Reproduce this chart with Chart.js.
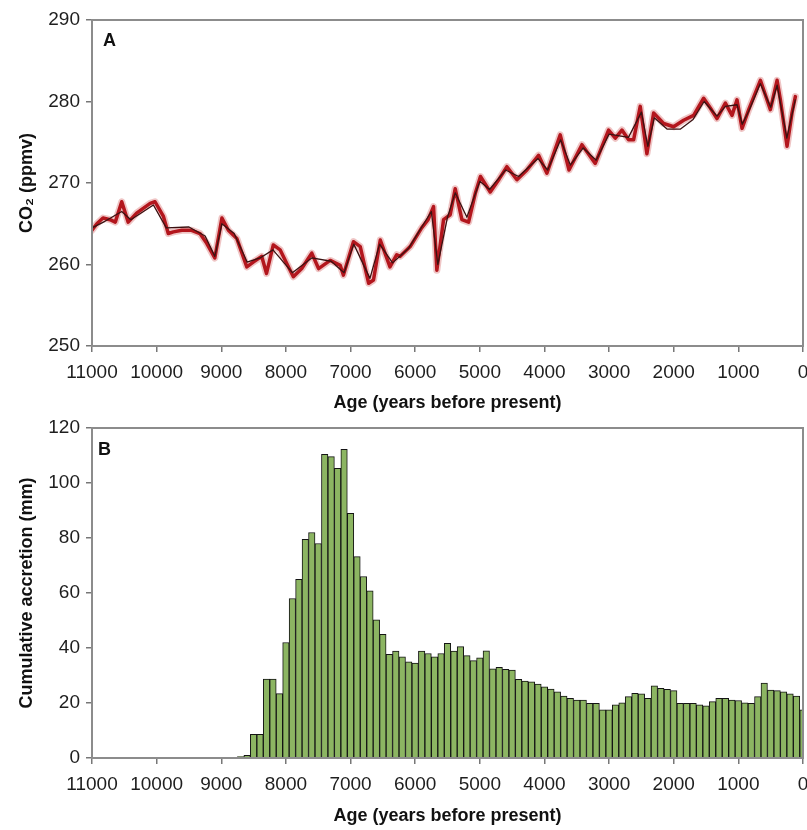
<!DOCTYPE html>
<html>
<head>
<meta charset="utf-8">
<script src="https://cdn.jsdelivr.net/npm/chart.js@4.4.1/dist/chart.umd.min.js"></script>
<style>
body { margin: 0; background: #fff; }
#page { position: relative; width: 807px; height: 830px; font-family: "Liberation Sans", Arial, sans-serif; }
.box { position: absolute; left: 0; width: 807px; height: 415px; }
#box-a { top: 0; }
#box-b { top: 415px; }
.panel { position: absolute; font-weight: bold; font-size: 18px; line-height: 18px; color: #111; }
</style>
</head>
<body>
<div id="page">
  <div class="box" id="box-a"><canvas id="chart-a"></canvas></div>
  <div class="box" id="box-b"><canvas id="chart-b"></canvas></div>
  <div class="panel" style="left:103px;top:31px">A</div>
  <div class="panel" style="left:98px;top:440px">B</div>
</div>
<script>
const ageTicks = [11000, 10000, 9000, 8000, 7000, 6000, 5000, 4000, 3000, 2000, 1000, 0];
const co2Ticks = [250, 260, 270, 280, 290];
const accretionTicks = [0, 20, 40, 60, 80, 100, 120];

const co2Ages = [11000, 10925, 10830, 10720, 10640, 10540, 10440, 10310, 10100, 10025,
  9895, 9820, 9740, 9610, 9460, 9330, 9225, 9100, 8990, 8890,
  8760, 8605, 8505, 8375, 8300, 8195, 8090, 7985, 7885, 7755,
  7600, 7495, 7315, 7160, 7110, 6955, 6850, 6720, 6645, 6540,
  6390, 6285, 6232, 6077, 5900, 5800, 5716, 5665, 5561, 5458,
  5381, 5277, 5174, 5071, 4990, 4839, 4700, 4581, 4426, 4271,
  4091, 3962, 3756, 3620, 3420, 3214, 3008, 2904, 2801, 2698,
  2621, 2518, 2415, 2311, 2157, 2002, 1847, 1692, 1537, 1434,
  1331, 1201, 1098, 1021, 943, 840, 659, 505, 401, 350,
  247, 170, 118];
const co2Values = [264.2, 265.0, 265.7, 265.5, 265.2, 267.7, 265.2, 266.3, 267.5, 267.7,
  265.9, 263.8, 264.0, 264.2, 264.2, 263.8, 262.6, 260.8, 265.7, 264.2,
  263.2, 259.7, 260.3, 261.0, 258.9, 262.4, 261.8, 260.1, 258.5, 259.5,
  261.4, 259.5, 260.5, 259.9, 258.7, 262.8, 262.2, 257.7, 258.1, 263.0,
  259.7, 261.2, 261.0, 262.2, 264.5, 265.5, 267.1, 259.3, 265.5, 266.1,
  269.3, 265.5, 265.2, 268.7, 270.8, 268.9, 270.5, 272.0, 270.4, 271.6,
  273.4, 271.2, 275.9, 271.6, 274.7, 272.4, 276.5, 275.5, 276.5, 275.3,
  275.3, 279.4, 273.6, 278.6, 277.3, 276.9, 277.7, 278.3, 280.4, 279.2,
  277.9, 279.8, 278.3, 280.2, 276.7, 279.0, 282.6, 279.0, 282.6, 280.2,
  274.5, 278.6, 280.6];

const darkAges = [11000, 10800, 10540, 10400, 10050, 9850, 9500, 9250, 9100, 8990,
  8800, 8600, 8400, 8200, 7900, 7600, 7300, 7100, 6950, 6700,
  6550, 6350, 6100, 5750, 5650, 5500, 5380, 5200, 5000, 4850,
  4600, 4400, 4100, 3950, 3750, 3600, 3400, 3200, 3000, 2700,
  2500, 2400, 2300, 2100, 1900, 1700, 1530, 1330, 1200, 1020,
  940, 840, 660, 500, 400, 250, 120];
const darkValues = [264.5, 265.3, 266.5, 265.5, 267.3, 264.5, 264.6, 263.5, 261.0, 265.0,
  263.8, 260.3, 260.8, 261.8, 259.0, 260.8, 260.4, 259.0, 262.5, 258.3,
  262.5, 260.2, 262.0, 266.5, 260.0, 265.8, 268.8, 265.8, 270.2, 269.2,
  271.6, 270.8, 273.0, 271.6, 275.3, 272.2, 274.3, 272.8, 276.0, 275.6,
  278.7, 274.5, 278.0, 276.6, 276.6, 277.8, 280.0, 278.2, 279.4, 279.6,
  277.2, 278.8, 282.2, 279.3, 282.0, 275.5, 280.2];

const accretionAges = [8700, 8600, 8500, 8400, 8300, 8200, 8100, 8000, 7900, 7800,
  7700, 7600, 7500, 7400, 7300, 7200, 7100, 7000, 6900, 6800,
  6700, 6600, 6500, 6400, 6300, 6200, 6100, 6000, 5900, 5800,
  5700, 5600, 5500, 5400, 5300, 5200, 5100, 5000, 4900, 4800,
  4700, 4600, 4500, 4400, 4300, 4200, 4100, 4000, 3900, 3800,
  3700, 3600, 3500, 3400, 3300, 3200, 3100, 3000, 2900, 2800,
  2700, 2600, 2500, 2400, 2300, 2200, 2100, 2000, 1900, 1800,
  1700, 1600, 1500, 1400, 1300, 1200, 1100, 1000, 900, 800,
  700, 600, 500, 400, 300, 200, 100, 0];
const accretionValues = [0.5, 1.0, 8.6, 8.6, 28.7, 28.7, 23.4, 42, 58, 65,
  79.5, 82, 78, 110.4, 109.6, 105.3, 112.2, 89, 73.2, 66,
  60.8, 50.2, 45, 37.7, 38.9, 36.8, 35, 34.5, 38.9, 38,
  36.8, 38, 41.7, 38.9, 40.5, 37.2, 35.4, 36.4, 39, 32.4,
  33, 32.2, 32, 28.6, 28, 27.7, 26.9, 25.9, 25.1, 24.1,
  22.5, 21.7, 21.1, 21.1, 19.9, 19.9, 17.5, 17.5, 19.3, 20.1,
  22.3, 23.5, 23.3, 21.7, 26.2, 25.3, 25, 24.5, 19.9, 19.9,
  19.9, 19.3, 19, 20.5, 21.7, 21.7, 21.1, 20.9, 20.1, 19.9,
  22.3, 27.2, 24.7, 24.5, 24.1, 23.3, 22.5, 17.5];

const fontFamily = "'Liberation Sans', Arial, sans-serif";
const tickFont = { family: fontFamily, size: 19 };
const titleFont = { family: fontFamily, size: 18, weight: 'bold' };
const axisGray = '#8c8c8c';

const puntos = (xs, ys) => xs.map((x, i) => ({ x: x, y: ys[i] }));

const marco = {
  id: 'marco',
  afterDraw(chart) {
    const { ctx, chartArea: a } = chart;
    ctx.save();
    ctx.strokeStyle = axisGray;
    ctx.lineWidth = 2;
    ctx.strokeRect(a.left, a.top, a.right - a.left, a.bottom - a.top);
    ctx.restore();
  }
};

const ageAxis = (alto, tituloAbajo) => ({
  type: 'linear',
  reverse: true,
  min: 0,
  max: 11000,
  offset: false,
  afterBuildTicks: (s) => { s.ticks = ageTicks.map(v => ({ value: v })); },
  afterFit: (s) => {
    s.height = alto;
    s.paddingLeft = 0;
    s.paddingRight = 0;
  },
  grid: { display: true, drawOnChartArea: false, tickLength: 6, color: '#777', lineWidth: 1.5, offset: false },
  border: { display: true, color: axisGray, width: 2 },
  ticks: { color: '#1e1e1e', font: tickFont, padding: 9, maxRotation: 0, autoSkip: false, callback: (v) => String(v) },
  title: { display: true, text: 'Age (years before present)', color: '#111', font: titleFont, padding: { top: 0, bottom: tituloAbajo } }
});

const valueAxis = (min, max, lista, texto, peso) => ({
  min: min,
  max: max,
  afterBuildTicks: (s) => { s.ticks = lista.map(v => ({ value: v })); },
  afterFit: (s) => {
    s.width = 92;
    s.paddingTop = 0;
    s.paddingBottom = 0;
  },
  grid: { display: true, drawOnChartArea: false, tickLength: 6, color: '#777', lineWidth: 1.5 },
  border: { display: true, color: axisGray, width: 2 },
  ticks: { color: '#1e1e1e', font: tickFont, padding: 6, callback: (v) => String(v) },
  title: { display: true, text: texto, color: '#111', font: { ...titleFont, weight: peso }, padding: { top: 16, bottom: 0 } }
});

const baseOptions = (padTop) => ({
  responsive: true,
  maintainAspectRatio: false,
  animation: false,
  devicePixelRatio: 1,
  layout: { padding: { top: padTop, right: 4, left: 0, bottom: 0 } },
  plugins: { legend: { display: false }, tooltip: { enabled: false } }
});

const lineStyle = { pointRadius: 0, tension: 0, borderJoinStyle: 'round', borderCapStyle: 'round' };

new Chart(document.getElementById('chart-a'), {
  type: 'line',
  data: {
    datasets: [
      { ...lineStyle, data: puntos(darkAges, darkValues), borderColor: '#3a1212', borderWidth: 1.3 },
      { ...lineStyle, data: puntos(co2Ages, co2Values), borderColor: '#b3161d', borderWidth: 3.5 },
      { ...lineStyle, data: puntos(co2Ages, co2Values), borderColor: 'rgba(214, 110, 110, 0.4)', borderWidth: 7 }
    ]
  },
  options: {
    ...baseOptions(20),
    scales: {
      x: ageAxis(69, 1),
      y: valueAxis(250, 290, co2Ticks, 'CO\u2082 (ppmv)', 'bold')
    }
  },
  plugins: [marco]
});

new Chart(document.getElementById('chart-b'), {
  type: 'bar',
  data: {
    datasets: [{
      data: puntos(accretionAges, accretionValues),
      backgroundColor: '#8cb562',
      borderColor: '#141414',
      borderWidth: 1,
      barPercentage: 1,
      categoryPercentage: 1
    }]
  },
  options: {
    ...baseOptions(13),
    scales: {
      x: ageAxis(72, 3),
      y: valueAxis(0, 120, accretionTicks, 'Cumulative accretion (mm)', 'bold')
    }
  },
  plugins: [marco]
});
</script>
</body>
</html>
